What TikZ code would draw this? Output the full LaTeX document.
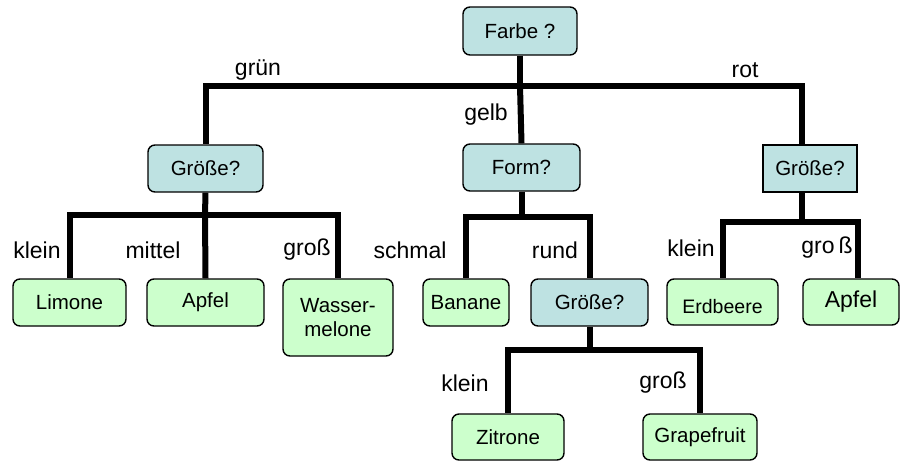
\documentclass[tikz,border=0pt]{standalone}
\usepackage{fontspec}
\setmainfont{Liberation Sans}
\usetikzlibrary{backgrounds}
\definecolor{qfill}{RGB}{190,226,226}
\definecolor{lfill}{RGB}{204,255,204}
\begin{document}
\begin{tikzpicture}[x=1pt,y=-1pt,
  box/.style={draw=black, line width=1.4pt, rounded corners=7pt, inner sep=0pt,
    align=center, font=\fontsize{20.5}{24}\selectfont},
  qbox/.style={box, fill=qfill},
  leaf/.style={box, fill=lfill},
  bar/.style={line width=6pt},
  lbl/.style={font=\fontsize{23}{27}\selectfont, inner sep=0pt}]
\useasboundingbox (0,0) rectangle (904,461);

% question nodes
\node[qbox, minimum width=114pt, minimum height=48pt] (farbe) at (520,31) {Farbe ?};
\node[qbox, minimum width=115pt, minimum height=47pt] (g1) at (205.5,168.5) {Größe?};
\node[qbox, minimum width=117pt, minimum height=47pt] (form) at (521.5,167.5) {Form?};
\node[qbox, sharp corners, minimum width=94pt, minimum height=47pt] (g3) at (810,168.5) {Größe?};
\node[qbox, minimum width=117pt, minimum height=47pt] (g2) at (589.5,302.5) {Größe?};

% leaves
\node[leaf, minimum width=113pt, minimum height=47pt] (limone) at (69.5,302.5) {Limone};
\node[leaf, minimum width=117pt, minimum height=47pt] (apfel) at (205.5,302.5) {Apfel};
\node[leaf, minimum width=110pt, minimum height=77pt] (wasser) at (338,317.5) {Wasser-\\melone};
\node[leaf, minimum width=86pt, minimum height=47pt] (banane) at (466,302.5) {Banane};
\node[leaf, minimum width=111pt, minimum height=46pt] (erdbeere) at (722.5,302) {};
\node[font=\fontsize{19.5}{23}\selectfont, inner sep=0pt] (erdtext) at (722.5,307) {Erdbeere};
\node[leaf, minimum width=96pt, minimum height=46pt, font=\fontsize{23}{27}\selectfont] (apfelr) at (851,302) {Apfel};
\node[leaf, minimum width=112pt, minimum height=46pt] (zitrone) at (508,437) {Zitrone};
\node[leaf, minimum width=114pt, minimum height=46pt] (grape) at (700,437) {Grapefruit};

% branch junctions
\coordinate (j0) at (520,86);
\coordinate (j1) at (205,215);
\coordinate (j2) at (521.5,217);
\coordinate (j3) at (589.5,350);
\coordinate (j4) at (802,222);

\begin{scope}[on background layer]
  \draw[bar] (farbe.south) -- (j0);
  \draw[bar] (j0) -| (g1.north);
  \draw[bar] (j0) -- (form.north);
  \draw[bar] (j0) -| ([xshift=-8pt]g3.north);

  \draw[bar] (g1.south) -- (j1);
  \draw[bar] (j1) -| (limone.north);
  \draw[bar] (j1) -- (apfel.north);
  \draw[bar] (j1) -| (wasser.north);

  \draw[bar] (form.south) -- (j2);
  \draw[bar] (j2) -| (banane.north);
  \draw[bar] (j2) -| (g2.north);

  \draw[bar] (g2.south) -- (j3);
  \draw[bar] (j3) -| (zitrone.north);
  \draw[bar] (j3) -| (grape.north);

  \draw[bar] ([xshift=-8pt]g3.south) -- (j4);
  \draw[bar] (j4) -| (erdbeere.north);
  \draw[bar] (j4) -| ([xshift=7pt]apfelr.north);
\end{scope}

% branch labels
\node[lbl] (l1) at (258,70) {grün};
\node[lbl] (l2) at (486,115) {gelb};
\node[lbl] (l3) at (745,70) {rot};
\node[lbl] (l4) at (37,250) {klein};
\node[lbl] (l5) at (153,250) {mittel};
\node[lbl] (l6) at (307,250) {groß};
\node[lbl] (l7) at (410,250) {schmal};
\node[lbl] (l8) at (555,250) {rund};
\node[lbl] (l9) at (691,248) {klein};
\node[lbl] (l10) at (827,248) {gro\,ß};
\node[lbl] (l11) at (465,383) {klein};
\node[lbl] (l12) at (663,383) {groß};
\end{tikzpicture}
\end{document}
